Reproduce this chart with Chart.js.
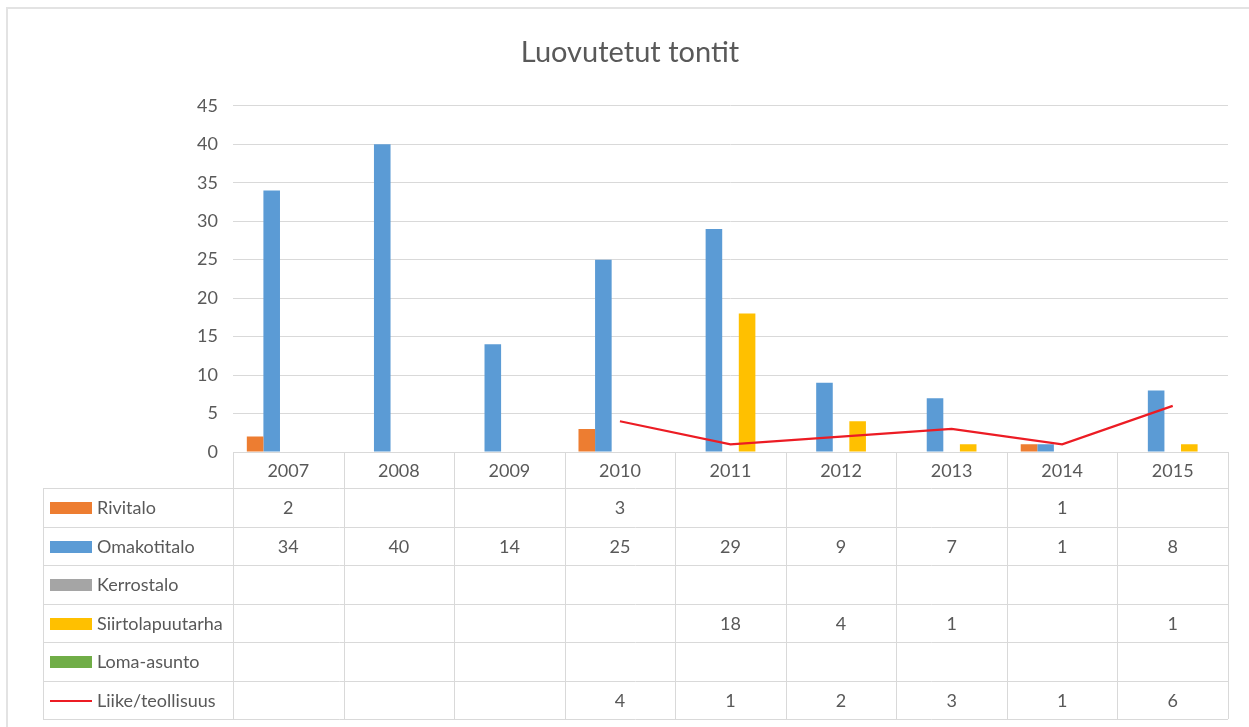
<!DOCTYPE html>
<html>
<head>
<meta charset="utf-8">
<script src="https://cdn.jsdelivr.net/npm/chart.js@4"></script>
<style>
  body { margin: 0; background: #fff; }
  #wrap { position: relative; width: 1249px; height: 727px; }
  #frame { position: absolute; left: 6px; top: 7px; right: 0; bottom: 0; border-top: 2px solid #e3e3e3; border-left: 2px solid #e3e3e3; pointer-events: none; }
</style>
</head>
<body>
<div id="wrap">
  <canvas id="chart" width="1249" height="727"></canvas>
  <div id="frame"></div>
</div>
<script>
// data
const years = ['2007', '2008', '2009', '2010', '2011', '2012', '2013', '2014', '2015'];
const rivitalo = [2, null, null, 3, null, null, null, 1, null];
const omakotitalo = [34, 40, 14, 25, 29, 9, 7, 1, 8];
const kerrostalo = [null, null, null, null, null, null, null, null, null];
const siirtolapuutarha = [null, null, null, null, 18, 4, 1, null, 1];
const lomaAsunto = [null, null, null, null, null, null, null, null, null];
const liikeTeollisuus = [null, null, null, 4, 1, 2, 3, 1, 6];
const yTicks = [0, 5, 10, 15, 20, 25, 30, 35, 40, 45];

const TEXT = '#595959', GRID = '#d9d9d9', FONT = 'Lato, "Open Sans", sans-serif';

// draws the data table under the plot (years row + one row per series)
const dataTable = {
    id: 'dataTable',
    afterDraw(chart) {
        const ctx = chart.ctx, x = chart.scales.x, area = chart.chartArea;
        const catW = (area.right - area.left) / years.length;
        const headTop = area.bottom, headH = 36, rowH = 38.5, legendLeft = 43;
        const rows = chart.data.datasets;
        const bottom = headTop + headH + rows.length * rowH;

        ctx.save();
        ctx.strokeStyle = GRID;
        ctx.lineWidth = 1;
        ctx.beginPath();
        // horizontal lines
        ctx.moveTo(area.left, headTop + 0.5); ctx.lineTo(area.right, headTop + 0.5);
        for (let r = 0; r <= rows.length; r++) {
            const yy = Math.round(headTop + headH + r * rowH) + 0.5;
            ctx.moveTo(legendLeft, yy); ctx.lineTo(area.right, yy);
        }
        // vertical lines
        ctx.moveTo(legendLeft + 0.5, headTop + headH); ctx.lineTo(legendLeft + 0.5, bottom);
        for (let i = 0; i <= years.length; i++) {
            const xx = Math.round(x.getPixelForValue(Math.min(i, years.length - 1)) + (i === years.length ? catW / 2 : -catW / 2)) + 0.5;
            ctx.moveTo(xx, headTop); ctx.lineTo(xx, bottom);
        }
        ctx.stroke();

        ctx.font = '18px ' + FONT;
        ctx.fillStyle = TEXT;
        ctx.textAlign = 'center';
        ctx.textBaseline = 'middle';
        years.forEach((yr, i) => ctx.fillText(yr, x.getPixelForValue(i), headTop + headH / 2 + 1));

        rows.forEach((ds, r) => {
            const cy = headTop + headH + r * rowH + rowH / 2 + 1;
            // legend key
            if (ds.type === 'line') {
                ctx.fillStyle = ds.borderColor;
                ctx.fillRect(legendLeft + 7, Math.round(cy) - 1, 42, 2);
            } else {
                ctx.fillStyle = ds.backgroundColor;
                ctx.fillRect(legendLeft + 7, Math.round(cy) - 6, 42, 12);
            }
            ctx.fillStyle = TEXT;
            ctx.textAlign = 'left';
            ctx.fillText(ds.label, legendLeft + 54, cy);
            ctx.textAlign = 'center';
            ds.data.forEach((v, i) => {
                if (v !== null) ctx.fillText(String(v), x.getPixelForValue(i), cy);
            });
        });
        ctx.restore();
    }
};

const bar = (label, data, color) => ({ type: 'bar', label: label, data: data, backgroundColor: color, order: 1 });

new Chart(document.getElementById('chart'), {
    data: {
        labels: years,
        datasets: [
            bar('Rivitalo', rivitalo, '#ed7d31'),
            bar('Omakotitalo', omakotitalo, '#5b9bd5'),
            bar('Kerrostalo', kerrostalo, '#a5a5a5'),
            bar('Siirtolapuutarha', siirtolapuutarha, '#ffc000'),
            bar('Loma-asunto', lomaAsunto, '#70ad47'),
            { type: 'line', label: 'Liike/teollisuus', data: liikeTeollisuus, borderColor: '#ec1c24', borderWidth: 2.2, pointRadius: 0, tension: 0, order: 0 }
        ]
    },
    options: {
        responsive: false,
        animation: false,
        layout: { padding: { left: 32, right: 21, top: 0, bottom: 275 } },
        datasets: { bar: { categoryPercentage: 0.75, barPercentage: 1.0 } },
        plugins: {
            legend: { display: false },
            tooltip: { enabled: false },
            title: {
                display: true, text: 'Luovutetut tontit', color: TEXT,
                font: { family: FONT, size: 29, weight: 'normal' },
                padding: { top: 35, bottom: 36 }
            }
        },
        scales: {
            x: { display: false, offset: true },
            y: {
                min: 0, max: 45,
                afterFit: (s) => { s.width = 201; },
                afterBuildTicks: (s) => { s.ticks = yTicks.map(v => ({ value: v })); },
                grid: { color: GRID, drawTicks: false },
                border: { display: false },
                ticks: { color: TEXT, padding: 15, font: { family: FONT, size: 18 } }
            }
        }
    },
    plugins: [dataTable]
});
</script>
</body>
</html>
